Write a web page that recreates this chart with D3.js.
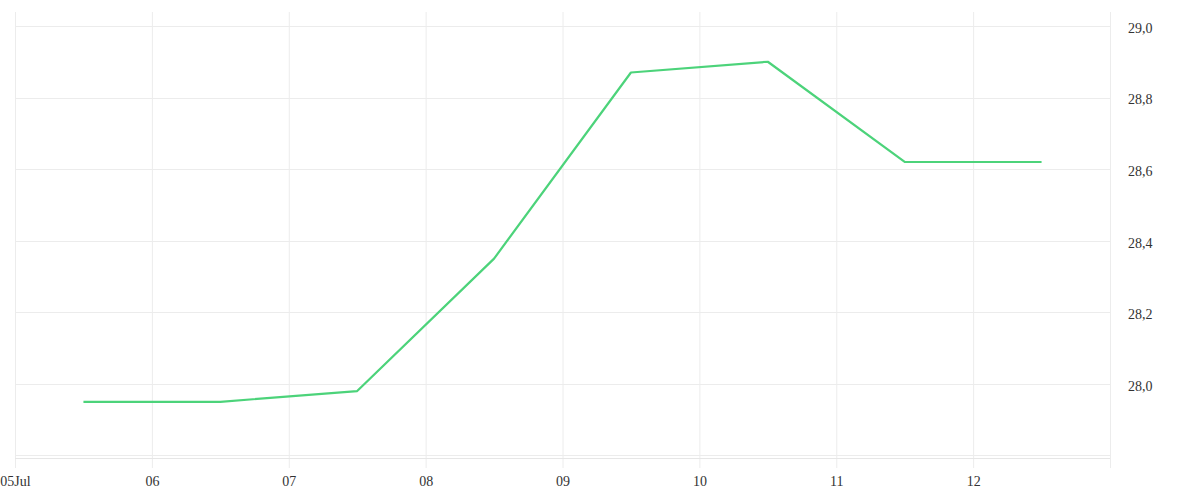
<!DOCTYPE html>
<html>
<head>
<meta charset="utf-8">
<script src="https://cdn.jsdelivr.net/npm/d3@7"></script>
<style>
  body { margin: 0; background: #fff; }
  text { font-family: "Liberation Serif", serif; font-size: 14px; fill: #333; }
</style>
</head>
<body>
<script>
var w = 1200;
var h = 500;

// data: one reading per day, at midday
var days = ["2023-07-05", "2023-07-06", "2023-07-07", "2023-07-08",
            "2023-07-09", "2023-07-10", "2023-07-11", "2023-07-12"];
var values = [27.95, 27.95, 27.98, 28.35, 28.87, 28.90, 28.62, 28.62];
var yTicks = [27.8, 28.0, 28.2, 28.4, 28.6, 28.8, 29.0];

// plot edges (note: "top" is reserved on window, so use other names)
var plotLeft = 15, plotRight = 1110, plotTop = 12, plotBottom = 458;

var parse = d3.timeParse("%Y-%m-%d");
var points = days.map(function(d, i) {
  return { date: d3.timeHour.offset(parse(d), 12), value: values[i] };
});

var xScale = d3.scaleTime()
  .domain([parse(days[0]), d3.timeDay.offset(parse(days[days.length - 1]), 1)])
  .range([plotLeft, plotRight]);

var yScale = d3.scaleLinear()
  .domain([27.793, 29.039])
  .range([plotBottom, plotTop]);

var svg = d3.select("body").append("svg")
  .attr("width", w)
  .attr("height", h);

// horizontal grid
svg.append("g")
  .selectAll("line")
  .data(yTicks)
  .join("line")
  .attr("x1", plotLeft)
  .attr("x2", plotRight)
  .attr("y1", function(d) { return Math.round(yScale(d)) + 0.5; })
  .attr("y2", function(d) { return Math.round(yScale(d)) + 0.5; })
  .attr("stroke", "#ececec");

// x axis with gridlines
var xTicks = d3.timeDay.range(parse(days[0]), d3.timeDay.offset(parse(days[days.length - 1]), 1));
var xAxis = d3.axisBottom(xScale)
  .tickValues(xTicks)
  .tickSize(plotBottom - plotTop + 10)
  .tickPadding(8)
  .tickFormat(function(d, i) {
    return i === 0 ? d3.timeFormat("%d%b")(d) : d3.timeFormat("%d")(d);
  });

var gx = svg.append("g")
  .attr("transform", "translate(0," + plotTop + ")")
  .call(xAxis);
gx.select(".domain").remove();
gx.selectAll(".tick line").attr("stroke", "#ececec");
gx.selectAll(".tick text").attr("fill", "#333").style("font-family", "Liberation Serif").style("font-size", "14px");

// bottom axis line
svg.append("line")
  .attr("x1", plotLeft).attr("x2", plotRight)
  .attr("y1", plotBottom + 0.5).attr("y2", plotBottom + 0.5)
  .attr("stroke", "#e6e6e6");

// right axis
var yAxis = d3.axisRight(yScale)
  .tickValues(yTicks.filter(function(d) { return d >= 28; }))
  .tickSize(0)
  .tickPadding(18)
  .tickFormat(function(d) { return d3.format(".1f")(d).replace(".", ","); });

var gy = svg.append("g")
  .attr("transform", "translate(" + plotRight + ",0)")
  .call(yAxis);
gy.select(".domain").remove();
gy.selectAll(".tick text").attr("fill", "#333").attr("dy", "0.45em")
  .style("font-family", "Liberation Serif").style("font-size", "14px");

svg.append("line")
  .attr("x1", plotRight + 0.5).attr("x2", plotRight + 0.5)
  .attr("y1", plotTop).attr("y2", plotBottom + 10)
  .attr("stroke", "#ececec");

// series line
var line = d3.line()
  .x(function(d) { return xScale(d.date); })
  .y(function(d) { return yScale(d.value); });

svg.append("path")
  .datum(points)
  .attr("d", line)
  .attr("fill", "none")
  .attr("stroke", "#4cd37a")
  .attr("stroke-width", 2.2)
  .attr("stroke-linejoin", "round");
</script>
</body>
</html>
